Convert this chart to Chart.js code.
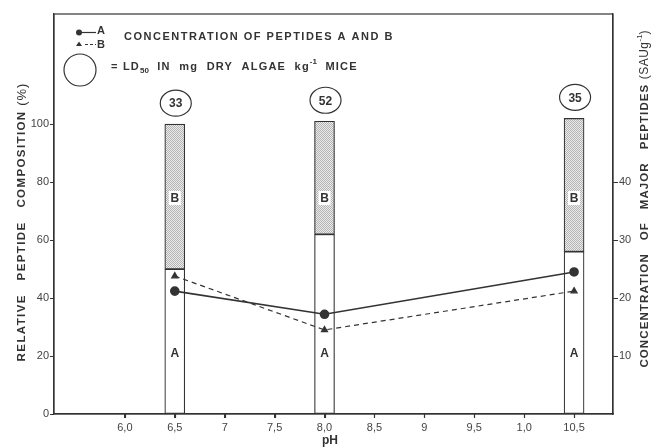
<!DOCTYPE html>
<html>
<head>
<meta charset="utf-8">
<script src="https://cdn.jsdelivr.net/npm/chart.js@4.4.1/dist/chart.umd.min.js"></script>
<style>
  html, body { margin: 0; padding: 0; background: #fff; }
  canvas { display: block; }
</style>
</head>
<body>
<canvas id="peptideChart" width="657" height="448"></canvas>
<script>
// datos
const phBars = [6.5, 8.0, 10.5];
const peptideA = [50, 62, 56];          // % relativo, parte blanca
const peptideB = [50, 39, 46];          // % relativo, parte punteada
const concA = [21.2, 17.2, 24.5];       // SAU g-1, línea continua
const concB = [23.8, 14.5, 21.2];       // SAU g-1, línea discontinua
const ld50 = [33, 52, 35];
const xTicks = [6, 6.5, 7, 7.5, 8, 8.5, 9, 9.5, 10, 10.5];
const xTickLabels = ['6,0', '6,5', '7', '7,5', '8,0', '8,5', '9', '9,5', '1,0', '10,5'];
const yTicks = [0, 20, 40, 60, 80, 100];
const y2Ticks = [10, 20, 30, 40];

const INK = '#333333';
const FONT = "'Liberation Sans', Arial, sans-serif";

// patrón punteado para la fracción B
function stipple() {
    const c = document.createElement('canvas');
    c.width = 2; c.height = 2;
    const g = c.getContext('2d');
    g.fillStyle = '#ebebeb';
    g.fillRect(0, 0, 2, 2);
    g.fillStyle = '#b4b4b4';
    g.fillRect(0, 0, 1, 1);
    g.fillRect(1, 1, 1, 1);
    return g.createPattern(c, 'repeat');
}

// dibuja texto por tramos (subíndices / superíndices)
function drawRuns(ctx, x, y, runs, align) {
    let total = 0;
    runs.forEach(r => {
        ctx.font = r.font;
        ctx.letterSpacing = r.ls || '0px';
        r.w = ctx.measureText(r.t).width;
        total += r.w;
    });
    let cx = align === 'center' ? x - total / 2 : x;
    runs.forEach(r => {
        ctx.font = r.font;
        ctx.letterSpacing = r.ls || '0px';
        ctx.fillText(r.t, cx, y + (r.dy || 0));
        cx += r.w;
    });
    ctx.letterSpacing = '0px';
}

const decorPlugin = {
    id: 'decor',
    afterDatasetsDraw(chart) {
        const ctx = chart.ctx;
        const xs = chart.scales.x, ys = chart.scales.y;
        ctx.save();
        ctx.fillStyle = INK;
        ctx.strokeStyle = INK;
        ctx.textAlign = 'center';
        ctx.textBaseline = 'middle';
        phBars.forEach((ph, i) => {
            const px = xs.getPixelForValue(ph);
            // etiqueta B con fondo blanco
            const by = ys.getPixelForValue(74.5);
            ctx.fillStyle = '#fff';
            ctx.fillRect(px - 6, by - 7, 12, 14);
            ctx.fillStyle = INK;
            ctx.font = 'bold 12px ' + FONT;
            ctx.fillText('B', px, by + 1);
            ctx.fillText('A', px, ys.getPixelForValue(21) + 1);
            // círculo LD50
            const top = ys.getPixelForValue(peptideA[i] + peptideB[i]);
            const cy = top - 21;
            ctx.lineWidth = 1.2;
            ctx.beginPath();
            ctx.ellipse(px + 1, cy, 15.5, 13, 0, 0, Math.PI * 2);
            ctx.stroke();
            ctx.font = 'bold 12px ' + FONT;
            ctx.fillText(String(ld50[i]), px + 1, cy + 1);
        });
        ctx.restore();
    },
    afterDraw(chart) {
        const ctx = chart.ctx;
        const a = chart.chartArea;
        const xs = chart.scales.x;
        ctx.save();
        ctx.strokeStyle = INK;
        ctx.fillStyle = INK;
        ctx.lineWidth = 1.2;
        ctx.strokeRect(a.left, a.top, a.right - a.left, a.bottom - a.top);

        // marcas del eje x
        ctx.beginPath();
        xTicks.forEach(v => {
            const px = Math.round(xs.getPixelForValue(v)) + 0.5;
            ctx.moveTo(px, a.bottom);
            ctx.lineTo(px, a.bottom + 4);
        });
        ctx.stroke();

        // leyenda
        ctx.beginPath();
        ctx.arc(79, 32.5, 3, 0, Math.PI * 2);
        ctx.fill();
        ctx.beginPath();
        ctx.moveTo(81, 32.5); ctx.lineTo(96, 32.5);
        ctx.stroke();
        ctx.beginPath();
        ctx.moveTo(79, 41.5); ctx.lineTo(82, 46); ctx.lineTo(76, 46);
        ctx.closePath();
        ctx.fill();
        ctx.setLineDash([3, 2]);
        ctx.beginPath();
        ctx.moveTo(85, 44.5); ctx.lineTo(96, 44.5);
        ctx.stroke();
        ctx.setLineDash([]);
        ctx.textBaseline = 'middle';
        ctx.textAlign = 'left';
        ctx.font = 'bold 11px ' + FONT;
        ctx.fillText('A', 97, 31);
        ctx.fillText('B', 97, 45);
        ctx.letterSpacing = '1.5px';
        ctx.fillText('CONCENTRATION OF PEPTIDES A AND B', 124, 37);
        ctx.letterSpacing = '0px';

        ctx.beginPath();
        ctx.arc(80, 70, 16, 0, Math.PI * 2);
        ctx.stroke();
        const b11 = 'bold 11px ' + FONT;
        const b8 = 'bold 8px ' + FONT;
        drawRuns(ctx, 111, 67, [
            { t: '= LD', font: b11, ls: '1.2px' },
            { t: '50', font: b8, dy: 4 },
            { t: '  IN  mg  DRY  ALGAE  kg', font: b11, ls: '1.2px' },
            { t: '-1', font: b8, dy: -5 },
            { t: '  MICE', font: b11, ls: '1.2px' }
        ], 'left');

        // títulos de ejes
        ctx.save();
        ctx.translate(22, 222);
        ctx.rotate(-Math.PI / 2);
        drawRuns(ctx, 0, 0, [
            { t: 'RELATIVE   PEPTIDE   COMPOSITION ', font: 'bold 11.5px ' + FONT, ls: '1.4px' },
            { t: '(%)', font: '13px ' + FONT, ls: '1px' }
        ], 'center');
        ctx.restore();

        ctx.save();
        ctx.translate(645, 199);
        ctx.rotate(-Math.PI / 2);
        drawRuns(ctx, 0, 0, [
            { t: 'CONCENTRATION   OF   MAJOR   PEPTIDES ', font: 'bold 11.5px ' + FONT, ls: '1.1px' },
            { t: '(SAUg', font: '12px ' + FONT, ls: '0.5px' },
            { t: '-1', font: '8px ' + FONT, dy: -5 },
            { t: ')', font: '12px ' + FONT }
        ], 'center');
        ctx.restore();

        ctx.textAlign = 'center';
        ctx.font = 'bold 12px ' + FONT;
        ctx.fillText('pH', 330, 441);
        ctx.restore();
    }
};

const pattern = stipple();

new Chart(document.getElementById('peptideChart'), {
    type: 'bar',
    data: {
        datasets: [
            {
                type: 'line',
                label: 'A',
                data: phBars.map((x, i) => ({ x: x, y: concA[i] })),
                yAxisID: 'y2',
                borderColor: INK,
                borderWidth: 1.6,
                pointStyle: 'circle',
                pointRadius: 4,
                pointBackgroundColor: INK,
                pointBorderColor: INK,
                order: 0
            },
            {
                type: 'line',
                label: 'B',
                data: phBars.map((x, i) => ({ x: x, y: concB[i] })),
                yAxisID: 'y2',
                borderColor: INK,
                borderWidth: 1.2,
                borderDash: [5, 4],
                pointStyle: 'triangle',
                pointRadius: 3.5,
                pointBackgroundColor: INK,
                pointBorderColor: INK,
                order: 0
            },
            {
                label: 'A %',
                data: phBars.map((x, i) => ({ x: x, y: peptideA[i] })),
                stack: 'comp',
                backgroundColor: '#ffffff',
                borderColor: INK,
                borderWidth: 1.2,
                borderSkipped: false,
                barThickness: 20,
                order: 1
            },
            {
                label: 'B %',
                data: phBars.map((x, i) => ({ x: x, y: peptideB[i] })),
                stack: 'comp',
                backgroundColor: pattern,
                borderColor: INK,
                borderWidth: 1.2,
                borderSkipped: false,
                barThickness: 20,
                order: 1
            }
        ]
    },
    options: {
        responsive: false,
        animation: false,
        layout: { padding: { top: 14, left: 0, right: 0, bottom: 0 } },
        plugins: {
            legend: { display: false },
            tooltip: { enabled: false }
        },
        scales: {
            x: {
                type: 'linear',
                offset: false,
                min: 5.29,
                max: 10.89,
                afterBuildTicks: s => { s.ticks = xTicks.map(v => ({ value: v })); },
                afterFit: s => { s.height = 34; },
                grid: { offset: false, drawOnChartArea: false, drawTicks: true, tickLength: 4, color: INK },
                border: { color: INK, width: 1.2 },
                ticks: {
                    color: '#444',
                    font: { family: FONT, size: 11 },
                    padding: 3,
                    maxRotation: 0,
                    autoSkip: false,
                    callback: v => xTickLabels[xTicks.indexOf(v)]
                }
            },
            y: {
                position: 'left',
                min: 0,
                max: 138,
                afterBuildTicks: s => { s.ticks = yTicks.map(v => ({ value: v })); },
                afterFit: s => { s.width = 54; },
                grid: { drawOnChartArea: false, drawTicks: true, tickLength: 4, color: INK },
                border: { color: INK, width: 1.2 },
                ticks: {
                    color: '#444',
                    font: { family: FONT, size: 11 },
                    padding: 1
                }
            },
            y2: {
                position: 'right',
                min: 0,
                max: 69,
                afterBuildTicks: s => { s.ticks = y2Ticks.map(v => ({ value: v })); },
                afterFit: s => { s.width = 44; },
                grid: { drawOnChartArea: false, drawTicks: true, tickLength: 5, color: INK },
                border: { color: INK, width: 1.2 },
                ticks: {
                    color: '#444',
                    font: { family: FONT, size: 11 },
                    padding: 1
                }
            }
        }
    },
    plugins: [decorPlugin]
});
</script>
</body>
</html>
